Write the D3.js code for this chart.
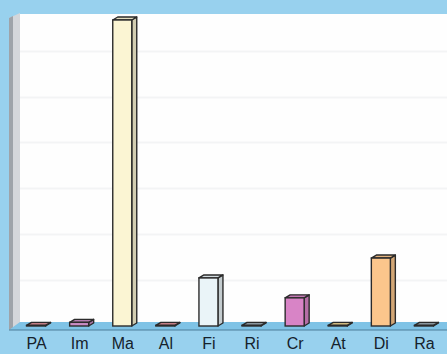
<!DOCTYPE html>
<html>
<head>
<meta charset="utf-8">
<script src="https://cdn.jsdelivr.net/npm/d3@7"></script>
<style>
  body { margin: 0; background: #98d1ee; }
  svg { display: block; }
</style>
</head>
<body>
<div id="chart"></div>
<script>
var width = 447;
var height = 354;

// chart data
var categories = ["PA", "Im", "Ma", "Al", "Fi", "Ri", "Cr", "At", "Di", "Ra"];
var values = [0.2, 1.2, 100, 0.2, 15.7, 0.2, 9.2, 0.2, 22.2, 0.2];
var colors = ["#d98c95", "#c98bc4", "#fbf5d3", "#d98c95", "#eaf4f8", "#9aa7b0", "#d884c6", "#e8cf8f", "#fbc68c", "#9aa7b0"];
var gridTicks = [15, 30, 45, 60, 75, 90];

var depthX = 5;
var depthY = 3;
var baseY = 326;

var svg = d3
  .select("#chart")
  .append("svg")
  .attr("width", width)
  .attr("height", height);

// background
svg.append("rect")
  .attr("width", width)
  .attr("height", height)
  .attr("fill", "#98d1ee");

var xScale = d3
  .scaleBand()
  .domain(categories)
  .range([16, 447])
  .paddingInner(0)
  .paddingOuter(0);

var yScale = d3
  .scaleLinear()
  .domain([0, 100])
  .range([baseY, 20]);

// back wall
svg.append("rect")
  .attr("x", 20)
  .attr("y", 14)
  .attr("width", width - 20)
  .attr("height", baseY - 14)
  .attr("fill", "#fefefe");

// faint grid lines
svg.selectAll(".grid")
  .data(gridTicks)
  .enter()
  .append("line")
  .attr("class", "grid")
  .attr("x1", 20)
  .attr("x2", width)
  .attr("y1", function(d) { return Math.round(yScale(d)) + 0.5; })
  .attr("y2", function(d) { return Math.round(yScale(d)) + 0.5; })
  .attr("stroke", "#f3f4f5")
  .attr("stroke-width", 2);

// left wall
svg.append("path")
  .attr("d", "M9,18 L20,13 L20,325 L9,330 Z")
  .attr("fill", "#d4d6da");
svg.append("path")
  .attr("d", "M9,18 L13,16 L13,328 L9,330 Z")
  .attr("fill", "#9ea3a9");

// floor
svg.append("path")
  .attr("d", "M9,330 L20,322 L" + width + ",322 L" + width + ",330 Z")
  .attr("fill", "#7fc3e6");
svg.append("line")
  .attr("x1", 9)
  .attr("x2", width)
  .attr("y1", 330)
  .attr("y2", 330)
  .attr("stroke", "#4d7f99")
  .attr("stroke-width", 1.2);

// 3d bars
var bars = svg.selectAll(".bar")
  .data(categories)
  .enter()
  .append("g")
  .attr("class", "bar");

function frontX(d) { return xScale(d) + xScale.bandwidth() / 2 - 11; }
var barW = 19;

bars.append("path") // side face
  .attr("d", function(d, i) {
    var x0 = frontX(d) + barW;
    var yt = yScale(values[i]);
    return "M" + x0 + "," + yt + " L" + (x0 + depthX) + "," + (yt - depthY) +
      " L" + (x0 + depthX) + "," + (baseY - depthY) + " L" + x0 + "," + baseY + " Z";
  })
  .attr("fill", function(d, i) { return d3.color(colors[i]).darker(0.5); })
  .attr("stroke", "#2b2b2b")
  .attr("stroke-width", 1.4)
  .attr("stroke-linejoin", "round");

bars.append("path") // top face
  .attr("d", function(d, i) {
    var x0 = frontX(d);
    var yt = yScale(values[i]);
    return "M" + x0 + "," + yt + " L" + (x0 + depthX) + "," + (yt - depthY) +
      " L" + (x0 + barW + depthX) + "," + (yt - depthY) + " L" + (x0 + barW) + "," + yt + " Z";
  })
  .attr("fill", function(d, i) { return d3.color(colors[i]).darker(0.3); })
  .attr("stroke", "#2b2b2b")
  .attr("stroke-width", 1.4)
  .attr("stroke-linejoin", "round");

bars.append("rect") // front face
  .attr("x", function(d) { return frontX(d); })
  .attr("y", function(d, i) { return yScale(values[i]); })
  .attr("width", barW)
  .attr("height", function(d, i) { return baseY - yScale(values[i]); })
  .attr("fill", function(d, i) { return colors[i]; })
  .attr("stroke", "#2b2b2b")
  .attr("stroke-width", 1.4);

// category labels
var xAxis = d3.axisBottom(xScale).tickSize(0).tickPadding(0);
var axisG = svg.append("g")
  .attr("transform", "translate(-1," + 349 + ")")
  .call(xAxis);
axisG.select(".domain").remove();
axisG.selectAll("text")
  .attr("dy", "0")
  .attr("y", 0)
  .attr("font-family", "Liberation Sans, Arial, sans-serif")
  .attr("font-size", 16)
  .attr("fill", "#15212b");
</script>
</body>
</html>
